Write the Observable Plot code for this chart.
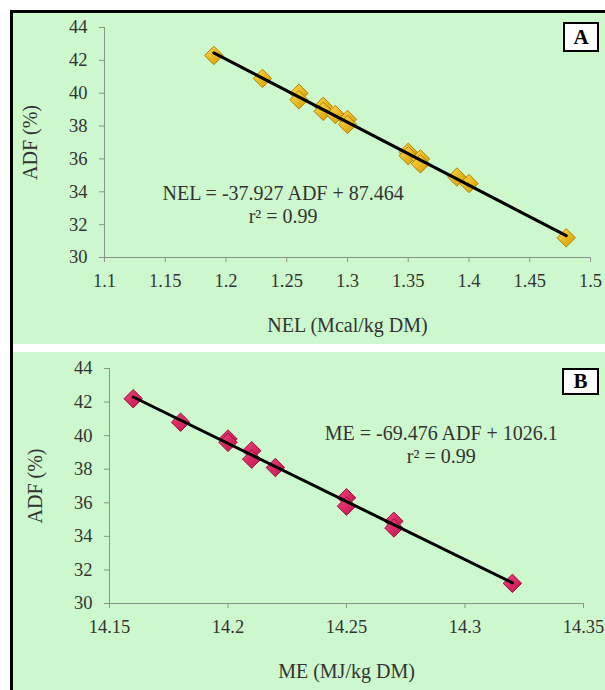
<!DOCTYPE html>
<html>
<head>
<meta charset="utf-8">
<script src="https://cdn.jsdelivr.net/npm/d3@7"></script>
<script src="https://cdn.jsdelivr.net/npm/@observablehq/plot@0.6"></script>
<style>
  html, body { margin: 0; padding: 0; background: #ffffff; }
  body { width: 605px; height: 690px; overflow: hidden; position: relative; font-family: "Liberation Serif", "Times New Roman", serif; }
  #wrap { position: absolute; left: 10px; top: 10px; width: 595px; height: 680px; border-left: 3px solid #000; border-top: 3px solid #000; box-sizing: border-box; }
  .panel { position: absolute; left: 0; width: 592px; background: #cdf8cd; }
  #panelA { top: 0; height: 331px; }
  #panelB { top: 339px; height: 338px; }
  .panel svg { display: block; background: transparent; }
  .panel svg text { fill: #333; }
  .tag { position: absolute; background: #fff; border: 2px solid #000; font: bold 21px "Liberation Serif", serif; color: #000; text-align: center; box-sizing: border-box; }
</style>
</head>
<body>
<div id="wrap">
  <div class="panel" id="panelA"><div class="tag" id="tagA">A</div></div>
  <div class="panel" id="panelB"><div class="tag" id="tagB">B</div></div>
</div>
<script>
// ---- Panel A data: NEL (Mcal/kg DM) vs ADF (%)
const nelValues = [1.19, 1.23, 1.26, 1.26, 1.28, 1.28, 1.29, 1.30, 1.30, 1.35, 1.35, 1.36, 1.36, 1.39, 1.40, 1.48];
const adfA      = [42.3, 40.9, 40.0, 39.6, 39.2, 38.9, 38.7, 38.4, 38.1, 36.4, 36.2, 36.0, 35.7, 34.9, 34.5, 31.2];
const xTicksA = [1.1, 1.15, 1.2, 1.25, 1.3, 1.35, 1.4, 1.45, 1.5];
const yTicks  = [30, 32, 34, 36, 38, 40, 42, 44];
const xLabelA = "NEL (Mcal/kg DM)";
const eqA = "NEL = -37.927 ADF + 87.464\nr\u00B2 = 0.99";

// ---- Panel B data: ME (MJ/kg DM) vs ADF (%)
const meValues = [14.16, 14.18, 14.20, 14.20, 14.21, 14.21, 14.22, 14.25, 14.25, 14.27, 14.27, 14.32];
const adfB     = [42.2, 40.8, 39.8, 39.6, 39.1, 38.6, 38.1, 36.3, 35.8, 34.9, 34.5, 31.2];
const xTicksB = [14.15, 14.2, 14.25, 14.3, 14.35];
const xLabelB = "ME (MJ/kg DM)";
const yLabel = "ADF (%)";
const eqB = "ME = -69.476 ADF + 1026.1\nr\u00B2 = 0.99";

const dataA = nelValues.map((x, i) => ({x, y: adfA[i]}));
const dataB = meValues.map((x, i) => ({x, y: adfB[i]}));
const fmt = d => String(+d.toFixed(2));

function addGradient(svg, id, c1, c2) {
  const ns = "http://www.w3.org/2000/svg";
  const defs = document.createElementNS(ns, "defs");
  const g = document.createElementNS(ns, "linearGradient");
  g.setAttribute("id", id);
  g.setAttribute("x1", "0"); g.setAttribute("y1", "0");
  g.setAttribute("x2", "1"); g.setAttribute("y2", "1");
  [[0, c1], [1, c2]].forEach(([o, c]) => {
    const s = document.createElementNS(ns, "stop");
    s.setAttribute("offset", o);
    s.setAttribute("stop-color", c);
    g.appendChild(s);
  });
  defs.appendChild(g);
  svg.prepend(defs);
}

function panel({data, xTicks, xLabel, eq, eqPos, fill, stroke, height, margins}) {
  return Plot.plot({
    width: 592,
    height,
    ...margins,
    style: {background: "transparent", fontFamily: "'Liberation Serif', 'Times New Roman', serif", fontSize: "18.5px", color: "#8a948a", overflow: "visible"},
    x: {domain: [xTicks[0], xTicks[xTicks.length - 1]], ticks: xTicks, tickFormat: fmt, tickSize: 5, tickPadding: 11, line: true, label: null},
    y: {domain: [30, 44], ticks: yTicks, tickSize: 5, tickPadding: 12, line: true, label: null},
    marks: [
      Plot.dot(data, {x: "x", y: "y", symbol: "diamond2", r: 8.3, fill, stroke, strokeWidth: 1}),
      Plot.linearRegressionY(data, {x: "x", y: "y", stroke: "#000", strokeWidth: 3, ci: 0}),
      Plot.text([eq], {x: eqPos[0], y: eqPos[1], text: d => d, fontSize: 20, lineHeight: 1.15, textAnchor: "middle", lineAnchor: "middle", fill: "#333"}),
      Plot.text([xLabel], {frameAnchor: "bottom", text: d => d, dy: 68, fontSize: 20, lineAnchor: "middle", fill: "#333"}),
      Plot.text([yLabel], {frameAnchor: "left", text: d => d, dx: -74, rotate: -90, fontSize: 20, textAnchor: "middle", lineAnchor: "middle", fill: "#333"})
    ]
  });
}

const plotA = panel({
  data: dataA, xTicks: xTicksA, xLabel: xLabelA, eq: eqA, eqPos: [1.247, 33.26],
  fill: "url(#goldGrad)", stroke: "#b08200", height: 331,
  margins: {marginLeft: 91, marginRight: 15, marginTop: 14, marginBottom: 87}
});
addGradient(plotA, "goldGrad", "#ffd84a", "#d29a00");
document.getElementById("panelA").prepend(plotA);

const plotB = panel({
  data: dataB, xTicks: xTicksB, xLabel: xLabelB, eq: eqB, eqPos: [14.29, 39.5],
  fill: "url(#pinkGrad)", stroke: "#9a1040", height: 338,
  margins: {marginLeft: 96, marginRight: 22, marginTop: 16, marginBottom: 87}
});
addGradient(plotB, "pinkGrad", "#f0427e", "#c0124c");
document.getElementById("panelB").prepend(plotB);

// panel tags
const tA = document.getElementById("tagA");
Object.assign(tA.style, {left: "550px", top: "9px", width: "36px", height: "30px", lineHeight: "26px"});
const tB = document.getElementById("tagB");
Object.assign(tB.style, {left: "549px", top: "16px", width: "37px", height: "27px", lineHeight: "23px"});
</script>
</body>
</html>
